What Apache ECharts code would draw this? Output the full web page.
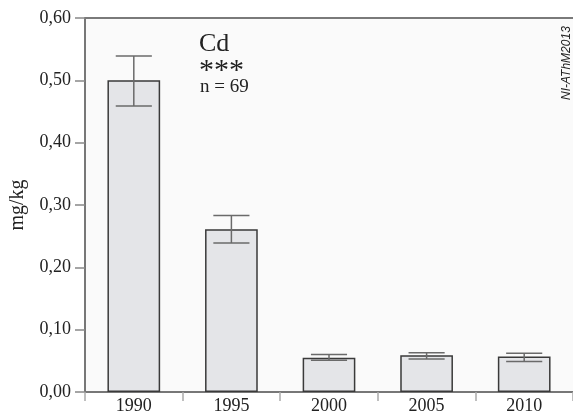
<!DOCTYPE html>
<html>
<head>
<meta charset="utf-8">
<script src="https://cdn.jsdelivr.net/npm/echarts@6/dist/echarts.min.js"></script>
<style>html,body{margin:0;padding:0;background:#fff}#c{width:573px;height:415px}</style>
</head>
<body>
<div id="c"></div>
<script>
const categories = ['1990', '1995', '2000', '2005', '2010'];
const means = [0.50, 0.261, 0.055, 0.059, 0.057];
const errLow = [0.459, 0.239, 0.051, 0.053, 0.049];
const errHigh = [0.539, 0.283, 0.060, 0.063, 0.062];
const yTicks = [0, 0.1, 0.2, 0.3, 0.4, 0.5, 0.6];

const serif = '"Liberation Serif", "DejaVu Serif", serif';
const chart = echarts.init(document.getElementById('c'));
chart.setOption({
  animation: false,
  backgroundColor: '#ffffff',
  grid: {
    left: 82, top: 18, width: 494, height: 374,
    show: true, backgroundColor: '#fafafa', borderWidth: 0
  },
  xAxis: [
    {
      type: 'category',
      data: categories,
      axisLine: { lineStyle: { color: '#777', width: 2 } },
      axisTick: { show: true, length: 9, lineStyle: { color: '#aaa', width: 1.5 } },
      axisLabel: { color: '#222', fontFamily: serif, fontSize: 18, margin: 5 }
    },
    {
      type: 'category',
      position: 'top',
      data: categories,
      axisLine: { show: true, lineStyle: { color: '#7a7a7a', width: 2 } },
      axisTick: { show: false },
      axisLabel: { show: false }
    }
  ],
  yAxis: {
    type: 'value',
    min: yTicks[0], max: yTicks[yTicks.length - 1], interval: 0.1,
    name: 'mg/kg', nameLocation: 'middle', nameGap: 57,
    nameTextStyle: { color: '#222', fontFamily: serif, fontSize: 20 },
    axisLine: { show: true, lineStyle: { color: '#777', width: 2 } },
    axisTick: { show: true, length: 10, lineStyle: { color: '#888', width: 1.5 } },
    splitLine: { show: false },
    axisLabel: {
      color: '#222', fontFamily: serif, fontSize: 18, margin: 14,
      formatter: v => v.toFixed(2).replace('.', ',')
    }
  },
  series: [
    {
      type: 'bar',
      data: means,
      barWidth: '54%',
      itemStyle: { color: '#e4e5e8', borderColor: '#3a3a3a', borderWidth: 1.5 }
    },
    {
      type: 'custom',
      data: categories.map((c, i) => [i, errLow[i], errHigh[i]]),
      renderItem: function (params, api) {
        const lo = api.coord([api.value(0), api.value(1)]);
        const hi = api.coord([api.value(0), api.value(2)]);
        const half = api.size([1, 0])[0] * 0.185;
        const st = { stroke: '#6a6a6a', lineWidth: 1.5 };
        return {
          type: 'group',
          children: [
            { type: 'line', shape: { x1: hi[0], y1: hi[1], x2: lo[0], y2: lo[1] }, style: st },
            { type: 'line', shape: { x1: hi[0] - half, y1: hi[1], x2: hi[0] + half, y2: hi[1] }, style: st },
            { type: 'line', shape: { x1: lo[0] - half, y1: lo[1], x2: lo[0] + half, y2: lo[1] }, style: st }
          ]
        };
      },
      z: 10
    }
  ],
  graphic: [
    { type: 'text', x: 199, y: 31, style: { text: 'Cd', font: '26px ' + serif, fill: '#222' } },
    { type: 'text', x: 199, y: 56, style: { text: '***', font: '30px ' + serif, fill: '#222' } },
    { type: 'text', x: 200, y: 78, style: { text: 'n = 69', font: '19px ' + serif, fill: '#222' } },
    { type: 'text', x: 561, y: 100, rotation: Math.PI / 2,
      style: { text: 'NI-AThM2013', font: 'italic 12px "Liberation Sans", Arial, sans-serif', fill: '#222' } }
  ]
});
</script>
</body>
</html>
